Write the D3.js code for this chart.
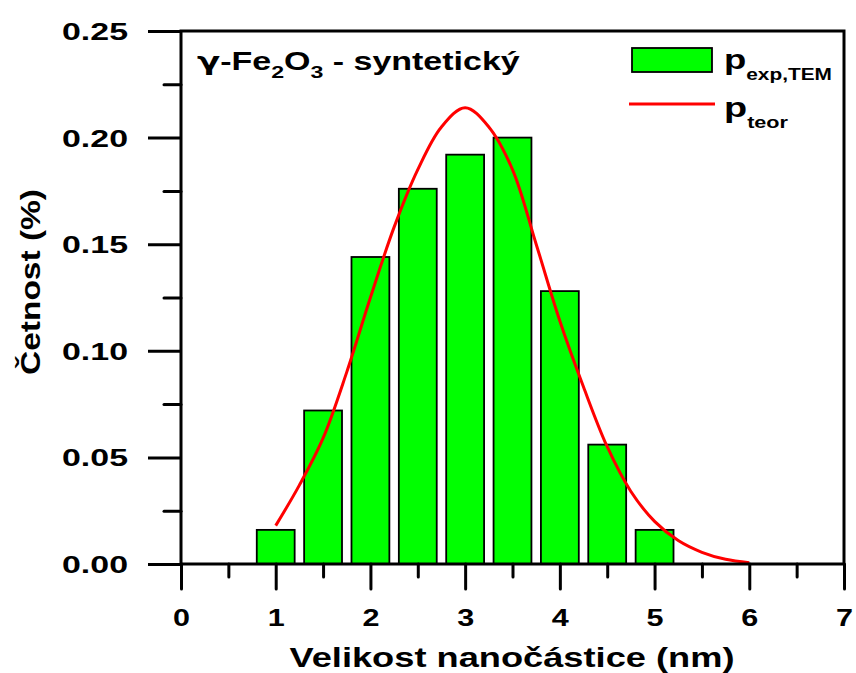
<!DOCTYPE html>
<html><head><meta charset="utf-8">
<script src="https://cdn.jsdelivr.net/npm/d3@7"></script>
<style>
html,body{margin:0;padding:0;background:#fff;}
svg{display:block;}
text{font-family:"Liberation Sans",Arial,sans-serif;font-weight:bold;fill:#000;}
</style></head>
<body><svg id="c" width="856" height="673"></svg>
<script>
// ---- data ----
const binCenters = [1.0, 1.5, 2.0, 2.5, 3.0, 3.5, 4.0, 4.5, 5.0];
const pExp = [0.016, 0.072, 0.144, 0.176, 0.192, 0.200, 0.128, 0.056, 0.016];
const curveX = [1.0, 1.25, 1.5, 1.75, 2.0, 2.25, 2.5, 2.75, 3.0, 3.25, 3.5, 3.75, 4.0, 4.25, 4.5, 4.75, 5.0, 5.25, 5.5, 5.75, 6.0];
const pTeor = [0.018, 0.037, 0.059, 0.090, 0.125, 0.158, 0.185, 0.205, 0.214, 0.205, 0.185, 0.150, 0.114, 0.083, 0.055, 0.034, 0.020, 0.011, 0.0055, 0.0022, 0.0006];
const xTicks = [0, 1, 2, 3, 4, 5, 6, 7];
const yTicks = [0.00, 0.05, 0.10, 0.15, 0.20, 0.25];
const xTitle = "Velikost nanočástice (nm)";
const yTitle = "Četnost (%)";

const svg = d3.select("#c");
const x = d3.scaleLinear().domain([0, 7]).range([181, 844]);
const y = d3.scaleLinear().domain([0, 0.25]).range([564, 31]);
const binW = 0.4;

// bars
svg.append("g").selectAll("rect").data(binCenters).join("rect")
  .attr("x", (d) => x(d - binW / 2))
  .attr("width", x(binW) - x(0))
  .attr("y", (d, i) => y(pExp[i]))
  .attr("height", (d, i) => y(0) - y(pExp[i]))
  .attr("fill", "#00ff00").attr("stroke", "#000").attr("stroke-width", 1.8);

// curve
const line = d3.line().x((d) => x(d[0])).y((d) => y(d[1])).curve(d3.curveCatmullRom);
svg.append("path").datum(curveX.map((v, i) => [v, pTeor[i]]))
  .attr("d", line).attr("fill", "none").attr("stroke", "#ff0000").attr("stroke-width", 3);

// frame
svg.append("rect").attr("x", x(0)).attr("y", y(0.25)).attr("width", x(7) - x(0)).attr("height", y(0) - y(0.25))
  .attr("fill", "none").attr("stroke", "#000").attr("stroke-width", 3);

// axes
const xAxis = d3.axisBottom(x).tickValues(xTicks).tickFormat(d3.format("d")).tickSize(25);
const gx = svg.append("g").attr("transform", `translate(0,${y(0)})`).call(xAxis);
gx.select(".domain").remove();
gx.selectAll(".tick line").attr("stroke-width", 3).attr("stroke-linecap", "round");
gx.selectAll(".tick text").attr("font-size", 24).attr("font-family", "Liberation Sans").attr("font-weight", "bold")
  .attr("textLength", 17).attr("lengthAdjust", "spacingAndGlyphs").attr("dy", null).attr("y", 62);
const xMinor = d3.axisBottom(x).tickValues(d3.range(0.5, 7, 1)).tickFormat("").tickSize(13);
const gxm = svg.append("g").attr("transform", `translate(0,${y(0)})`).call(xMinor);
gxm.select(".domain").remove();
gxm.selectAll(".tick line").attr("stroke-width", 3).attr("stroke-linecap", "round");

const yAxis = d3.axisLeft(y).tickValues(yTicks).tickFormat(d3.format(".2f")).tickSize(33);
const gy = svg.append("g").attr("transform", `translate(${x(0)},0)`).call(yAxis);
gy.select(".domain").remove();
gy.selectAll(".tick line").attr("stroke-width", 3);
gy.selectAll(".tick text").attr("font-size", 23.5).attr("font-family", "Liberation Sans").attr("font-weight", "bold")
  .attr("textLength", 66).attr("lengthAdjust", "spacingAndGlyphs").attr("x", -53).attr("dy", null).attr("y", 8.5);
const yMinor = d3.axisLeft(y).tickValues(d3.range(0.025, 0.25, 0.05)).tickFormat("").tickSize(17);
const gym = svg.append("g").attr("transform", `translate(${x(0)},0)`).call(yMinor);
gym.select(".domain").remove();
gym.selectAll(".tick line").attr("stroke-width", 3).attr("stroke-linecap", "round");

// axis titles
svg.append("text").attr("x", 512).attr("y", 667).attr("text-anchor", "middle")
  .attr("font-size", 27).attr("textLength", 445).attr("lengthAdjust", "spacingAndGlyphs").text(xTitle);
svg.append("text").attr("transform", "translate(40,282) rotate(-90)").attr("text-anchor", "middle")
  .attr("font-size", 27).attr("textLength", 186).attr("lengthAdjust", "spacingAndGlyphs").text(yTitle);

// helper: horizontally stretch a group to target width
function stretch(g, x0, targetW) {
  const bb = g.node().getBBox();
  const s = targetW / bb.width;
  g.attr("transform", `translate(${x0},0) scale(${s},1) translate(${-bb.x},0)`);
}

// chart title
const tg = svg.append("g");
const tt = tg.append("text").attr("y", 70).attr("font-size", 25);
tt.append("tspan").attr("font-family", "DejaVu Sans").text("γ");
tt.append("tspan").text("-Fe");
tt.append("tspan").attr("font-size", 17).attr("dy", 8).text("2");
tt.append("tspan").attr("dy", -8).text("O");
tt.append("tspan").attr("font-size", 17).attr("dy", 8).text("3");
tt.append("tspan").attr("dy", -8).text(" - syntetický");
stretch(tg, 197, 323);

// legend
svg.append("rect").attr("x", 632).attr("y", 48).attr("width", 80).attr("height", 24)
  .attr("fill", "#00ff00").attr("stroke", "#000").attr("stroke-width", 1.8);
svg.append("line").attr("x1", 629).attr("x2", 715).attr("y1", 104).attr("y2", 104)
  .attr("stroke", "#ff0000").attr("stroke-width", 3);
const lg1 = svg.append("g");
const l1 = lg1.append("text").attr("y", 69).attr("font-size", 28);
l1.append("tspan").text("p");
l1.append("tspan").attr("font-size", 16).attr("dy", 11).text("exp,TEM");
stretch(lg1, 724, 108);
const lg2 = svg.append("g");
const l2 = lg2.append("text").attr("y", 117).attr("font-size", 28);
l2.append("tspan").text("p");
l2.append("tspan").attr("font-size", 16).attr("dy", 11).text("teor");
stretch(lg2, 724, 64);
</script></body></html>
